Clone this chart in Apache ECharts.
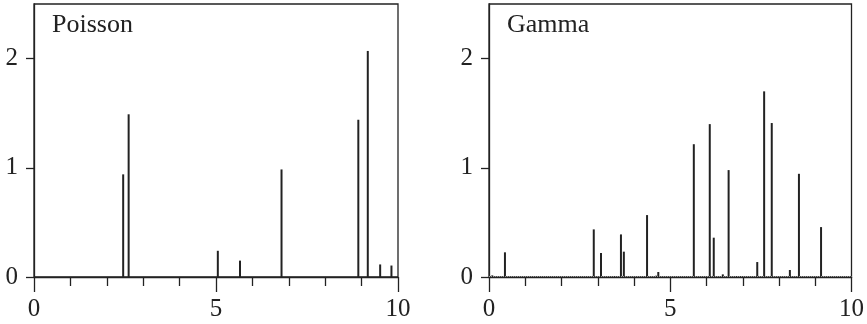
<!DOCTYPE html>
<html>
<head>
<meta charset="utf-8">
<script src="https://cdn.jsdelivr.net/npm/echarts@6/dist/echarts.min.js"></script>
<style>html,body{margin:0;padding:0;background:#fff;}#c{width:867px;height:324px;}</style>
</head>
<body>
<div id="c"></div>
<script>
// Panel titles
const panelTitles = ['Poisson', 'Gamma'];
// Tick labels
const xTickValues = [0, 5, 10];
const yTickValues = [0, 1, 2];

// Poisson spikes: positions and heights
const poissonX = [2.45, 2.60, 5.05, 5.66, 6.80, 8.91, 9.17, 9.51, 9.82];
const poissonY = [0.94, 1.49, 0.24, 0.15, 0.985, 1.44, 2.07, 0.115, 0.105];

// Gamma spikes: positions and heights
const gammaX = [0.09, 0.44, 2.89, 3.09, 3.45, 3.64, 3.72, 4.36, 4.61, 4.67, 5.65, 6.09, 6.20, 6.45, 6.61, 6.81, 6.96, 7.40, 7.59, 7.80, 8.30, 8.55, 9.16];
const gammaY = [0.015, 0.226, 0.436, 0.22, 0.006, 0.39, 0.232, 0.567, 0.012, 0.046, 1.216, 1.40, 0.36, 0.024, 0.979, 0.008, 0.008, 0.137, 1.70, 1.41, 0.064, 0.945, 0.457];

const FONT = 'Liberation Serif';
const INK = '#222';

function pairs(xs, ys) { return xs.map((x, i) => [x, ys[i]]); }

const grids = [
  { left: 34, top: 4, width: 364, height: 273 },
  { left: 489, top: 4, width: 363, height: 273 }
];

function xAxis(gi) {
  return {
    gridIndex: gi, type: 'value', min: 0, max: 10, interval: 5,
    axisLine: { show: true, onZero: false, lineStyle: { color: INK, width: 1.3 } },
    axisTick: { show: true, length: 15, lineStyle: { color: INK, width: 1.3 }, customValues: xTickValues },
    minorTick: { show: true, splitNumber: 5, length: 9, lineStyle: { color: INK, width: 1.3 } },
    axisLabel: { show: true, customValues: xTickValues, color: INK, fontFamily: FONT, fontSize: 25, margin: 20 },
    splitLine: { show: false }
  };
}
function yAxis(gi) {
  return {
    gridIndex: gi, type: 'value', min: 0, max: 2.5, interval: 1,
    axisLine: { show: true, lineStyle: { color: INK, width: 1.3 } },
    axisTick: { show: true, length: 8, lineStyle: { color: INK, width: 1.3 }, customValues: yTickValues },
    axisLabel: { show: true, customValues: yTickValues, color: INK, fontFamily: FONT, fontSize: 25, margin: 16 },
    splitLine: { show: false }
  };
}

const option = {
  animation: false,
  backgroundColor: '#fff',
  grid: grids.map(g => Object.assign({ show: true, borderColor: INK, borderWidth: 1.3, backgroundColor: 'transparent' }, g)),
  xAxis: [xAxis(0), xAxis(1)],
  yAxis: [yAxis(0), yAxis(1)],
  graphic: [
    { type: 'text', left: 52, top: 12, style: { text: panelTitles[0], font: '26px "' + FONT + '"', fill: INK } },
    { type: 'text', left: 507, top: 12, style: { text: panelTitles[1], font: '26px "' + FONT + '"', fill: INK } }
  ],
  series: [
    {
      type: 'bar', xAxisIndex: 0, yAxisIndex: 0, barWidth: 2,
      itemStyle: { color: INK }, data: pairs(poissonX, poissonY), z: 3
    },
    {
      type: 'bar', xAxisIndex: 1, yAxisIndex: 1, barWidth: 2,
      itemStyle: { color: INK }, data: pairs(gammaX, gammaY), z: 3,
      markLine: {
        silent: true, symbol: 'none', label: { show: false },
        lineStyle: { color: '#999', type: [1, 1], width: 1 },
        data: [{ yAxis: 0.012 }]
      }
    }
  ]
};

const chart = echarts.init(document.getElementById('c'), null, { renderer: 'canvas' });
chart.setOption(option);
</script>
</body>
</html>
